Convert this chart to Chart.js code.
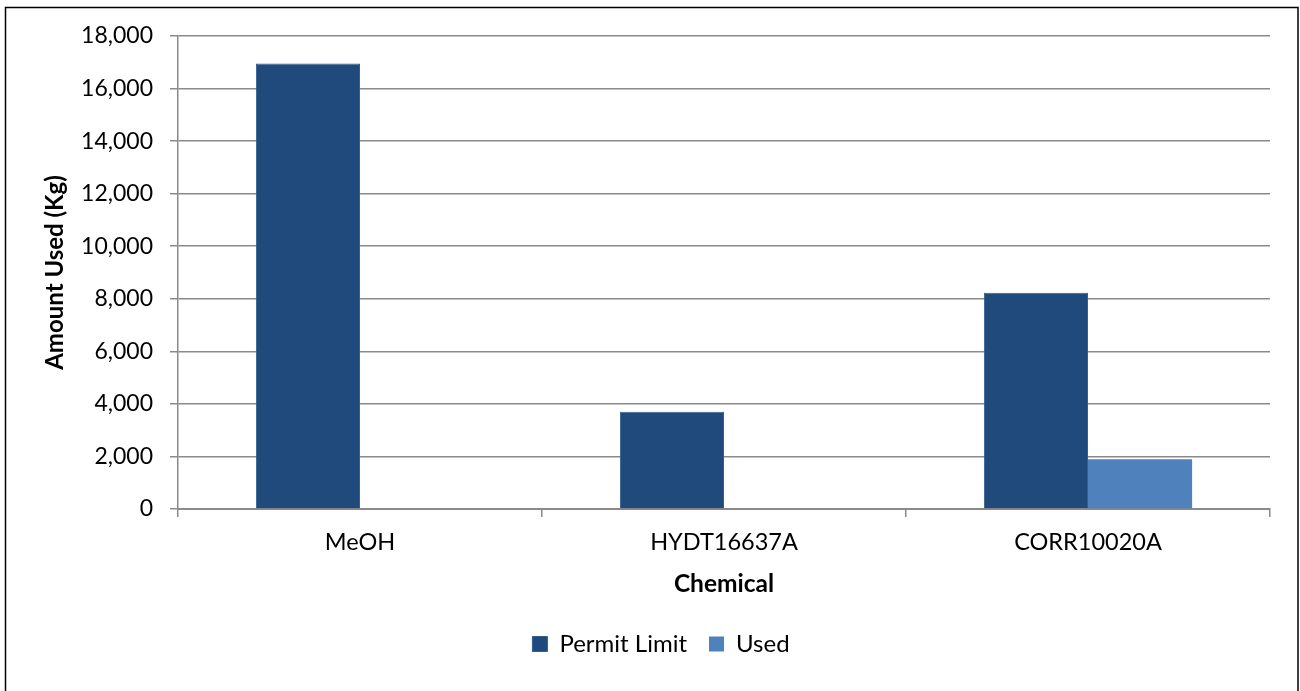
<!DOCTYPE html>
<html>
<head>
<meta charset="utf-8">
<script src="https://cdn.jsdelivr.net/npm/chart.js@4/dist/chart.umd.min.js"></script>
<style>
  html, body { margin: 0; padding: 0; background: #fff; }
  #wrap { width: 1300px; height: 691px; }
</style>
</head>
<body>
<div id="wrap"><canvas id="c" width="1300" height="691"></canvas></div>
<script>
// Chemical usage against permit limits
const chemicals = ['MeOH', 'HYDT16637A', 'CORR10020A'];
const permitLimit = [16950, 3700, 8230];
const used = [0, 0, 1890];
const yTicks = [0, 2000, 4000, 6000, 8000, 10000, 12000, 14000, 16000, 18000];

const FONT = 'Lato, "Open Sans", sans-serif';
const GRID = '#8a8a8a';

// Thin black frame around the whole figure
const framePlugin = {
  id: 'frame',
  afterDraw(chart) {
    const ctx = chart.ctx;
    ctx.save();
    ctx.strokeStyle = '#000';
    ctx.lineWidth = 1.5;
    ctx.strokeRect(5.5, 7.5, 1292.5, 700);
    ctx.restore();
  }
};

// Center the legend on the full canvas width rather than the padded box
const legendCenter = {
  id: 'legendCenter',
  beforeDraw(chart) {
    const lg = chart.legend;
    if (!lg) return;
    const shift = (chart.width - (lg.left + lg.right)) / 2 + 11;
    lg.left += shift;
    lg.right += shift;
  }
};

new Chart(document.getElementById('c'), {
  type: 'bar',
  data: {
    labels: chemicals,
    datasets: [
      { label: 'Permit Limit', data: permitLimit, backgroundColor: '#214A7C', borderColor: '#335d90', borderWidth: 1 },
      { label: 'Used', data: used, backgroundColor: '#4F81BD', borderWidth: 0 }
    ]
  },
  options: {
    responsive: false,
    animation: false,
    devicePixelRatio: 1,
    layout: { padding: { top: 36, right: 30, left: 0, bottom: 25 } },
    datasets: { bar: { categoryPercentage: 0.572, barPercentage: 1.0 } },
    plugins: {
      legend: {
        position: 'bottom',
        labels: {
          font: { family: FONT, size: 24 },
          color: '#000',
          boxWidth: 15,
          boxHeight: 15,
          padding: 22
        }
      },
      tooltip: { enabled: false }
    },
    scales: {
      x: {
        offset: true,
        grid: { display: true, offset: true, drawOnChartArea: false, color: GRID, lineWidth: 1.5, tickLength: 8 },
        border: { color: GRID, width: 2 },
        ticks: { font: { family: FONT, size: 23.5 }, color: '#000', padding: 11 },
        title: { display: true, text: 'Chemical', font: { family: FONT, size: 24.5, weight: 'bold' }, color: '#000', padding: { top: 6, bottom: 11 } },
        afterFit(scale) { scale.height = 101; }
      },
      y: {
        min: 0, max: 18000,
        afterBuildTicks(scale) { scale.ticks = yTicks.map(v => ({ value: v })); },
        grid: { color: GRID, lineWidth: 1.5, tickLength: 8 },
        border: { color: GRID, width: 1.5 },
        ticks: {
          font: { family: FONT, size: 23 }, color: '#000', padding: 17,
          callback: v => v.toLocaleString('en-US')
        },
        title: { display: true, text: 'Amount Used (Kg)', font: { family: FONT, size: 24, weight: 'bold' }, color: '#000', padding: { top: 41 } },
        afterFit(scale) { scale.width = 178; }
      }
    }
  },
  plugins: [framePlugin, legendCenter]
});
</script>
</body>
</html>
